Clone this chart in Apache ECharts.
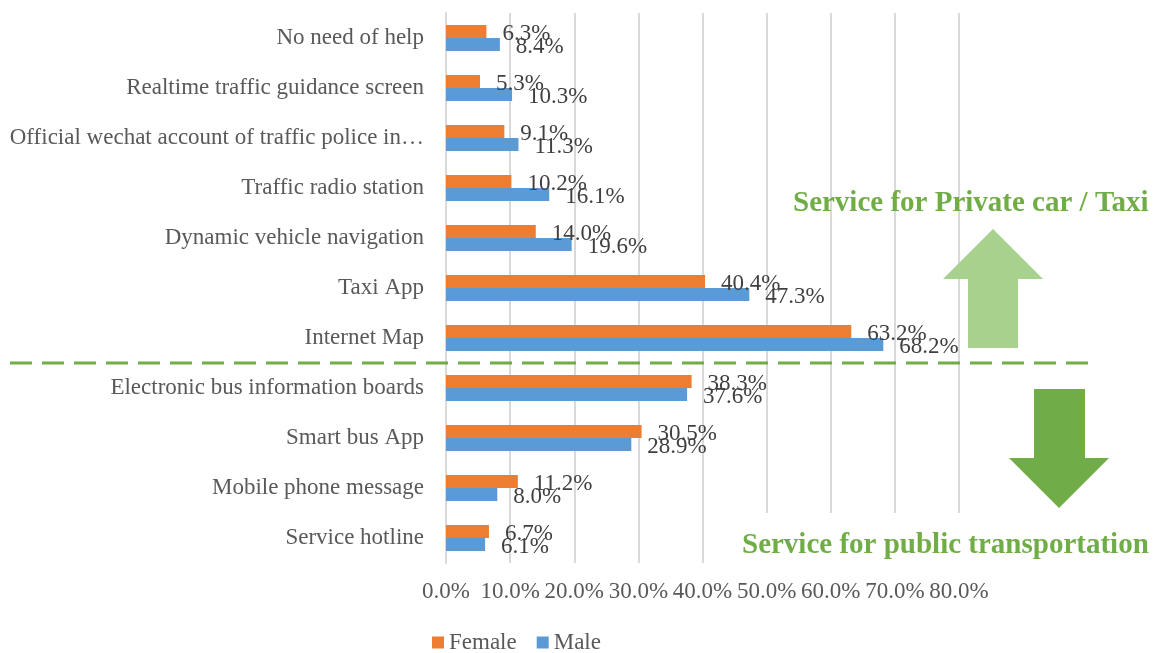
<!DOCTYPE html>
<html>
<head>
<meta charset="utf-8">
<title>Service usage by gender</title>
<script src="https://cdn.jsdelivr.net/npm/echarts@6/dist/echarts.min.js"></script>
<style>
    html, body { margin: 0; padding: 0; background: #fff; }
    #main { width: 1155px; height: 653px; }
</style>
</head>
<body>
<div id="main"></div>
<script>
/*数据*/
var categories = [
    "No need of help",
    "Realtime traffic guidance screen",
    "Official wechat account of traffic police in…",
    "Traffic radio station",
    "Dynamic vehicle navigation",
    "Taxi App",
    "Internet Map",
    "Electronic bus information boards",
    "Smart bus App",
    "Mobile phone message",
    "Service hotline"
];
var female = [6.3, 5.3, 9.1, 10.2, 14.0, 40.4, 63.2, 38.3, 30.5, 11.2, 6.7];
var male   = [8.4, 10.3, 11.3, 16.1, 19.6, 47.3, 68.2, 37.6, 28.9, 8.0, 6.1];
var xTicks = [0, 10, 20, 30, 40, 50, 60, 70, 80];

var serif = '"Liberation Serif", "Times New Roman", serif';
var green = '#70ad47';

function pct(v) {
    return Number(v).toFixed(1) + '%';
}

function barSeries(name, data, color) {
    return {
        name: name,
        type: 'bar',
        data: data,
        barWidth: 13,
        barGap: '0%',
        itemStyle: { color: color },
        label: {
            show: true,
            position: 'right',
            distance: 16,
            offset: [0, 2],
            color: '#404040',
            fontFamily: serif,
            fontSize: 23,
            formatter: function (p) { return pct(p.value); }
        }
    };
}

var myChart = echarts.init(document.getElementById('main'));

var option = {
    backgroundColor: '#fff',
    animation: false,
    grid: { left: 446, right: 196, top: 13, bottom: 90 },
    legend: {
        data: ['Female', 'Male'],
        left: 427,
        top: 626,
        icon: 'rect',
        itemWidth: 12,
        itemHeight: 12,
        itemGap: 20,
        textStyle: { color: '#595959', fontFamily: serif, fontSize: 23 }
    },
    xAxis: {
        type: 'value',
        min: xTicks[0],
        max: xTicks[xTicks.length - 1],
        interval: 10,
        axisLine: { show: false },
        axisTick: { show: false },
        splitLine: { lineStyle: { color: '#d9d9d9', width: 2 } },
        axisLabel: {
            margin: 17,
            color: '#595959',
            fontFamily: serif,
            fontSize: 23,
            formatter: function (v) { return pct(v); }
        }
    },
    yAxis: {
        type: 'category',
        data: categories,
        inverse: true,
        axisTick: { show: false },
        axisLine: { lineStyle: { color: '#d9d9d9', width: 2 } },
        axisLabel: {
            margin: 22,
            color: '#595959',
            fontFamily: serif,
            fontSize: 23
        }
    },
    series: [
        barSeries('Female', female, '#ed7d31'),
        barSeries('Male', male, '#5b9bd5')
    ],
    graphic: [
        // 分隔虚线
        {
            type: 'line', z: 100,
            shape: { x1: 10, y1: 363, x2: 1095, y2: 363 },
            style: { stroke: green, lineWidth: 3, lineDash: [22, 10] }
        },
        // 上箭头
        {
            type: 'polygon', z: 100,
            shape: { points: [[993, 229], [1043, 279], [1018, 279], [1018, 348], [968, 348], [968, 279], [943, 279]] },
            style: { fill: '#a9d18e' }
        },
        // 下箭头
        {
            type: 'polygon', z: 100,
            shape: { points: [[1034, 389], [1085, 389], [1085, 458], [1109, 458], [1059, 508], [1009, 458], [1034, 458]] },
            style: { fill: green }
        },
        // 文本框背景
        {
            type: 'rect', z: 100,
            shape: { x: 740, y: 513, width: 415, height: 62 },
            style: { fill: '#fff' }
        },
        {
            type: 'text', z: 101,
            style: {
                text: 'Service for Private car / Taxi',
                x: 793, y: 204,
                verticalAlign: 'middle',
                fill: green,
                fontFamily: serif, fontWeight: 'bold', fontSize: 29
            }
        },
        {
            type: 'text', z: 101,
            style: {
                text: 'Service for public transportation',
                x: 742, y: 546,
                verticalAlign: 'middle',
                fill: green,
                fontFamily: serif, fontWeight: 'bold', fontSize: 29
            }
        }
    ]
};

myChart.setOption(option);
</script>
</body>
</html>
